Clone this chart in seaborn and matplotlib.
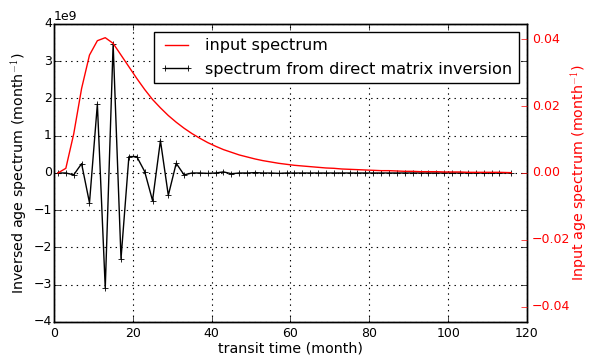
import numpy as np
import pandas as pd
import matplotlib
matplotlib.use("Agg")
import matplotlib.pyplot as plt
import seaborn as sns

plt.style.use("classic")
plt.rcParams["figure.facecolor"] = "white"
plt.rcParams["savefig.facecolor"] = "white"
plt.rcParams["font.family"] = ["DejaVu Sans"]

# transit time bins (month)
transit_time = list(range(1, 114, 2)) + [116]

# input spectrum (month^-1), right axis
input_spectrum = [
    0.0000, 0.0014, 0.0117, 0.0253, 0.0353, 0.0396, 0.0405, 0.0388, 0.0353, 0.0318,
    0.0283, 0.0250, 0.0220, 0.0195, 0.0172, 0.0152, 0.0134, 0.0118, 0.0104, 0.0091,
    0.0080, 0.0070, 0.0062, 0.0054, 0.0048, 0.0042, 0.0037, 0.0033, 0.0029, 0.0026,
    0.0023, 0.0021, 0.0019, 0.0017, 0.0015, 0.0014, 0.0012, 0.0011, 0.0010, 0.0009,
    0.0008, 0.0007, 0.0007, 0.0006, 0.0005, 0.0005, 0.0004, 0.0004, 0.0004, 0.0003,
    0.0003, 0.0003, 0.0002, 0.0002, 0.0002, 0.0002, 0.0002, 0.0001,
]

# spectrum from direct matrix inversion (x 1e9), left axis
inversed_e9 = [
    0.00, 0.00, -0.05, 0.25, -0.80, 1.85, -3.09, 3.46, -2.30, 0.44,
    0.44, 0.04, -0.74, 0.87, -0.60, 0.26, -0.05, 0.00, 0.00, -0.01,
    0.00, 0.03, -0.02, 0.00, 0.00, 0.01, 0.00, 0.00, -0.01, 0.00,
    0.00, 0.00, 0.00, 0.00, 0.00, 0.00, 0.00, 0.00, 0.00, 0.00,
    0.00, 0.00, 0.00, 0.00, 0.00, 0.00, 0.00, 0.00, 0.00, 0.00,
    0.00, 0.00, 0.00, 0.00, 0.00, 0.00, 0.00, 0.00,
]

df = pd.DataFrame({
    "t": transit_time,
    "input": input_spectrum,
    "inversed": np.array(inversed_e9) * 1e9,
})

fig = plt.figure(figsize=(5.89, 3.55), dpi=100)
ax1 = fig.add_axes([0.0917, 0.093, 0.803, 0.8394])
sns.lineplot(data=df, x="t", y="inversed", ax=ax1, color="k", marker="+",
             markersize=5, markeredgewidth=0.6, markeredgecolor="k",
             linewidth=1.0, label="spectrum from direct matrix inversion")
ax1.set_xlim(0, 120)
ax1.set_ylim(-4e9, 4e9)
ax1.set_xticks(range(0, 121, 20))
ax1.grid(True, color="k", linestyle=":", linewidth=0.8)
ax1.set_xlabel("transit time (month)", fontsize=10.3, labelpad=1.5)
ax1.set_ylabel("Inversed age spectrum (month$^{-1}$)", fontsize=10.3, labelpad=3)
ax1.tick_params(labelsize=9)
ax1.tick_params(axis="x", pad=3.5)
ax1.tick_params(axis="y", pad=1.5)
ax1.yaxis.get_offset_text().set_fontsize(9)

ax2 = ax1.twinx()
sns.lineplot(data=df, x="t", y="input", ax=ax2, color="red", linewidth=1.0,
             label="input spectrum")
ax2.set_ylim(-0.0446, 0.0446)
ax2.set_yticks([-0.04, -0.02, 0.0, 0.02, 0.04])
ax2.set_ylabel("Input age spectrum (month$^{-1}$)", color="red", fontsize=10.3,
               labelpad=-1.5)
ax2.tick_params(axis="y", colors="red", labelsize=9, pad=3.5)
ax1.yaxis.set_ticks_position("both")

h1, l1 = ax1.get_legend_handles_labels()
h2, l2 = ax2.get_legend_handles_labels()
for a in (ax1, ax2):
    if a.get_legend() is not None:
        a.get_legend().remove()
ax2.legend(h2 + h1, l2 + l1, loc="upper right", fontsize=11.6, numpoints=2,
           frameon=True)

fig.savefig("out.png", dpi=100)
